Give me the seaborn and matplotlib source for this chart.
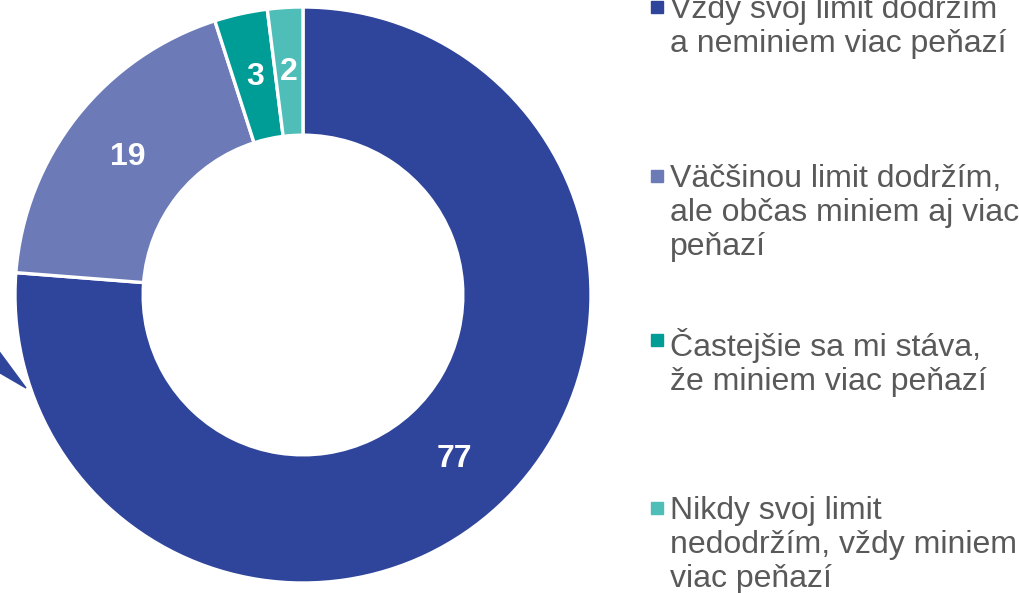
import matplotlib
matplotlib.use("Agg")
import matplotlib.pyplot as plt
from matplotlib.patches import Polygon
import seaborn as sns
import numpy as np

# data
categories = [
    "Vždy svoj limit dodržím\na neminiem viac peňazí",
    "Väčšinou limit dodržím,\nale občas miniem aj viac\npeňazí",
    "Častejšie sa mi stáva,\nže miniem viac peňazí",
    "Nikdy svoj limit\nnedodržím, vždy miniem\nviac peňazí",
]
values = [77, 19, 3, 2]
colors = ["#2F459B", "#6C7BB8", "#009C96", "#4FBDB8"]

sns.set_theme(style="white")
plt.rcParams["font.family"] = ["Liberation Sans", "DejaVu Sans"]

W, H = 1020, 593
fig = plt.figure(figsize=(W / 100, H / 100), dpi=100)

# donut: centre at (303, 295) px, outer radius 288 px
cx, cy, R = 303, 295, 288
ax = fig.add_axes([0, 0, 1, 1])

wedges, _ = ax.pie(values, colors=colors, startangle=90, counterclock=False,
                   radius=1.0,
                   wedgeprops=dict(width=0.445, edgecolor="white", linewidth=2.4))
ax.set_aspect("auto")
ax.set_xlim(-cx / R, (W - cx) / R)
ax.set_ylim(-(H - cy) / R, cy / R)
ax.axis("off")

for w, v in zip(wedges, values):
    ang = np.deg2rad((w.theta1 + w.theta2) / 2)
    r = 0.775
    ax.text(r * np.cos(ang), r * np.sin(ang), str(v), color="white",
            fontsize=23, fontweight="bold", ha="center", va="center")

# small callout arrow cut by the left edge
tri = np.array([[-5, 346], [-5, 370], [26, 388]], dtype=float)
fig.patches.append(Polygon(np.c_[tri[:, 0] / W, 1 - tri[:, 1] / H],
                           closed=True, color=colors[0],
                           transform=fig.transFigure, figure=fig))

# legend, placed by hand
tops = [-5, 164, 328, 496]
for lab, col, t in zip(categories, colors, tops):
    fig.text(670 / W, 1 - t / H, lab, color="#595959", fontsize=23,
             ha="left", va="top", linespacing=1.17)
    fig.patches.append(plt.Rectangle((651 / W, 1 - (t + 18) / H),
                                     12 / W, 12 / H, color=col,
                                     transform=fig.transFigure, figure=fig))

fig.savefig("out.png", dpi=100)
